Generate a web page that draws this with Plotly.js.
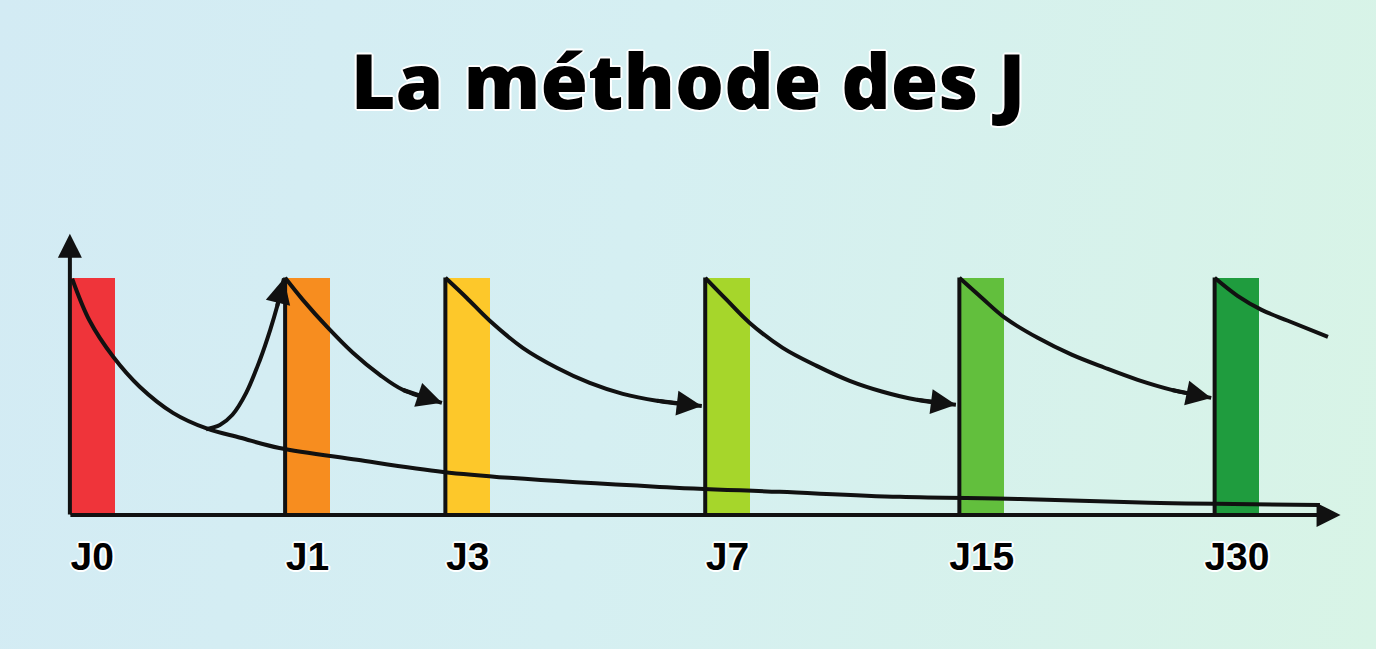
<!DOCTYPE html>
<html>
<head>
<meta charset="utf-8">
<script src="https://cdn.plot.ly/plotly-3.0.1.min.js"></script>
<style>
html, body { margin:0; padding:0; width:1376px; height:649px; overflow:hidden;
  background: linear-gradient(100deg, #d3ebf4 0%, #d5eff2 45%, #d8f4e6 100%); }
#chart { width:1376px; height:649px; }
</style>
</head>
<body>
<div id="chart"></div>
<script>
// ---- data ----
const days = ['J0', 'J1', 'J3', 'J7', 'J15', 'J30'];
const reviewPos = [0, 18.8, 32.8, 55.5, 77.7, 100];      // position of each review on the drawn timeline
const retentionAtReview = [100, 100, 100, 100, 100, 100];

// forgetting curve without review
const forgetX = [0.2, 1.7, 3.8, 6.1, 9.0, 12.0, 14.9, 18.3, 25.1, 32.6, 38.4, 51.5, 62.0, 72.5, 83.0, 94.3, 109.2];
const forgetY = [99.5, 82.0, 66.5, 54.0, 43.0, 36.3, 32.5, 28.2, 23.2, 18.1, 15.6, 11.8, 9.7, 7.6, 6.7, 5.1, 4.2];

// rebound at the first review
const reboundX = [11.9, 13.1, 14.2, 15.4, 16.6, 17.5, 18.1, 18.7];
const reboundY = [36.1, 37.9, 42.2, 51.4, 65.3, 78.0, 87.8, 99.6];

// decay curves after each review
const decayX = [
  [18.8, 20.35, 22.45, 24.72, 27.07, 29.08, 32.5],
  [32.8, 34.65, 36.68, 39.56, 42.53, 45.41, 48.3, 51.27, 55.2],
  [55.5, 57.38, 59.39, 62.27, 65.24, 68.12, 71.0, 73.97, 77.4],
  [77.7, 79.65, 81.66, 84.54, 87.51, 90.39, 93.28, 96.24, 99.7],
  [100, 102.0, 104.1, 106.4, 109.9]
];
const decayY = [
  [99.9, 90.6, 79.3, 68.3, 59.0, 52.7, 47.2],
  [99.9, 91.5, 81.8, 70.4, 62.0, 55.6, 51.0, 48.1, 45.9],
  [99.9, 90.6, 80.9, 70.4, 62.8, 56.5, 51.9, 48.5, 46.4],
  [99.9, 91.5, 83.1, 74.6, 67.5, 62.0, 56.9, 52.7, 49.3],
  [99.9, 92.3, 86.4, 81.8, 75.0]
];
const decayHasArrow = [true, true, true, true, false];

// ---- styles ----
const barColors = ['#ef343a', '#f78d1f', '#fdc82a', '#a6d62b', '#62bf3d', '#1f9c3e'];
const BAR_W = 3.9;
const INK = '#111111';
const LW = 4;

const traces = [];

traces.push({
  type: 'bar', x: reviewPos, y: retentionAtReview, width: BAR_W, offset: 0,
  marker: { color: barColors, line: { width: 0 } }, hoverinfo: 'skip', showlegend: false
});

// vertical review lines (J1 .. J30)
const vx = [], vy = [];
for (let i = 1; i < reviewPos.length; i++) {
  vx.push(reviewPos[i], reviewPos[i], null);
  vy.push(0, retentionAtReview[i], null);
}
traces.push({ type: 'scatter', mode: 'lines', x: vx, y: vy,
  line: { color: INK, width: LW }, hoverinfo: 'skip', showlegend: false });

traces.push({ type: 'scatter', mode: 'lines', x: forgetX, y: forgetY,
  line: { color: INK, width: LW, shape: 'spline' }, hoverinfo: 'skip', showlegend: false });

traces.push({ type: 'scatter', mode: 'lines', x: reboundX, y: reboundY,
  line: { color: INK, width: LW, shape: 'spline' }, hoverinfo: 'skip', showlegend: false });

decayX.forEach((xs, i) => {
  traces.push({ type: 'scatter', mode: 'lines', x: xs, y: decayY[i],
    line: { color: INK, width: LW, shape: 'spline' }, hoverinfo: 'skip', showlegend: false });
});

const annotations = [];
function arrow(x0, y0, x1, y1, w, s) {
  annotations.push({ x: x1, y: y1, ax: x0, ay: y0, xref: 'x', yref: 'y', axref: 'x', ayref: 'y',
    text: '', font: { size: 1 }, borderpad: 0, showarrow: true, arrowhead: 2, arrowsize: s,
    arrowwidth: w, arrowcolor: INK, standoff: 0 });
}
// axes
arrow(0, 0, 111.0, 0, 4, 1.2);
arrow(0, 0, 0, 118.5, 4, 1.2);
// curve arrowheads
arrow(reboundX[reboundX.length - 2], reboundY[reboundY.length - 2],
      reboundX[reboundX.length - 1], reboundY[reboundY.length - 1], LW, 1.25);
decayX.forEach((xs, i) => {
  if (!decayHasArrow[i]) return;
  const ys = decayY[i], n = xs.length;
  arrow(xs[n - 2], ys[n - 2], xs[n - 1], ys[n - 1], LW, 1.25);
});

const shadow = '2px 0 0 #fff, -2px 0 0 #fff, 0 2px 0 #fff, 0 -2px 0 #fff, 1px 1px 0 #fff, -1px -1px 0 #fff, 1px -1px 0 #fff, -1px 1px 0 #fff';

const layout = {
  width: 1376, height: 649,
  paper_bgcolor: 'rgba(0,0,0,0)', plot_bgcolor: 'rgba(0,0,0,0)',
  margin: { l: 47, r: 24, t: 223, b: 127, pad: 0 },
  title: { text: 'La méthode des J', x: 0.5, xanchor: 'center', y: 0.874, yanchor: 'middle', yref: 'container',
    font: { family: '"Open Sans", Lato, sans-serif', weight: 800, size: 77, color: '#000', shadow: shadow } },
  xaxis: { range: [-2, 112], showgrid: false, zeroline: false, showline: false, ticks: '',
    tickvals: reviewPos.map(p => p + BAR_W / 2), ticktext: days, ticklabelstandoff: 8,
    tickfont: { family: '"Liberation Sans", Arial, sans-serif', weight: 'bold', size: 39, color: '#000', shadow: shadow },
    fixedrange: true },
  yaxis: { range: [-3, 123], showgrid: false, zeroline: false, showline: false, showticklabels: false, ticks: '',
    fixedrange: true },
  bargap: 0,
  annotations: annotations,
  showlegend: false
};

Plotly.newPlot('chart', traces, layout, { displayModeBar: false, staticPlot: true });
</script>
</body>
</html>
